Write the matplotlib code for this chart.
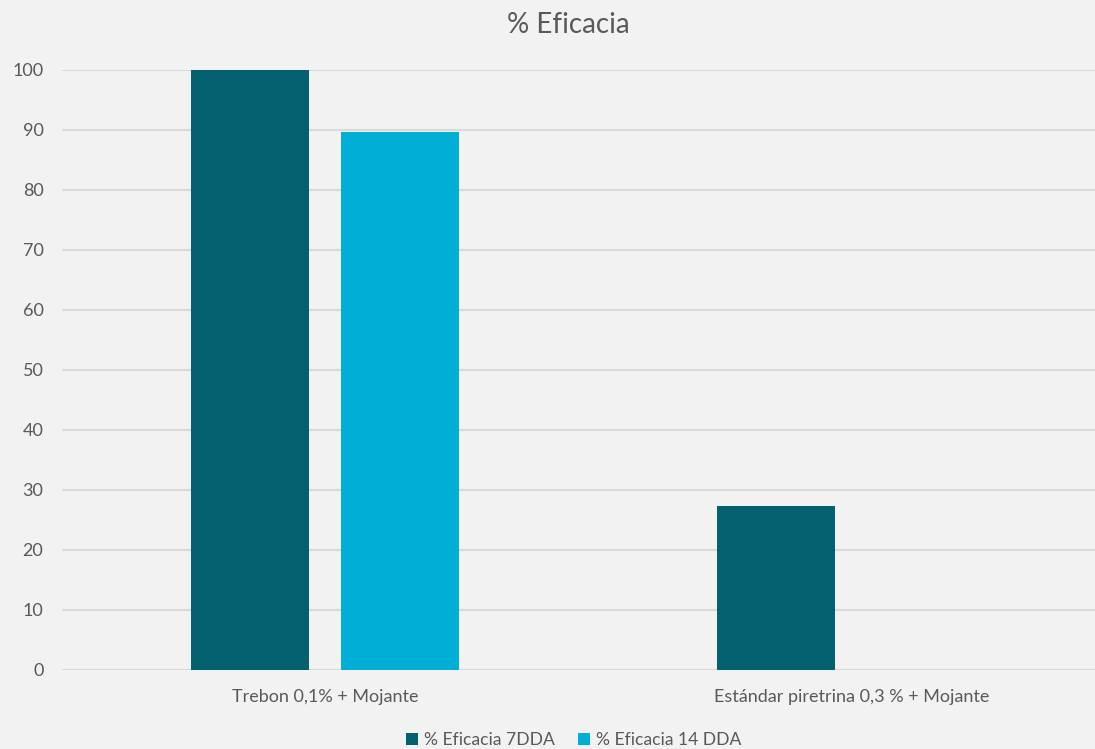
import matplotlib
matplotlib.use("Agg")
import matplotlib.pyplot as plt
import numpy as np

categories = ["Trebon 0,1% + Mojante", "Estándar piretrina 0,3 % + Mojante"]
series_names = ["% Eficacia 7DDA", "% Eficacia 14 DDA"]
eficacia_7dda = [100, 27.4]
eficacia_14dda = [89.7, 0]
yticks = list(range(0, 101, 10))

colors = ["#02606F", "#00AED6"]
txt = "#595959"
bg = "#F2F2F2"

plt.rcParams['font.family'] = ['Lato', 'DejaVu Sans']

W, H = 1095, 749
fig = plt.figure(figsize=(W / 100, H / 100), dpi=100, facecolor=bg)
left_px, top_px, bottom_px = 61.5, 70, 670
ax = fig.add_axes([left_px / W, (H - bottom_px) / H, 1 - left_px / W, (bottom_px - top_px) / H])
ax.set_facecolor(bg)

cat_px = 526.5
x = np.arange(len(categories))
bw = 118 / cat_px
gap = 32 / cat_px
off = (bw + gap) / 2
ax.bar(x - off, eficacia_7dda, width=bw, color=colors[0], label=series_names[0], zorder=3)
ax.bar(x + off, eficacia_14dda, width=bw, color=colors[1], label=series_names[1], zorder=3)

ax.set_xlim(-0.5, (W - left_px) / cat_px - 0.5)
ax.set_ylim(0, 100)
ax.set_yticks(yticks)
ax.set_xticks(x)
ax.set_xticklabels(categories)
ax.tick_params(axis='both', length=0, colors=txt, labelsize=13)
ax.tick_params(axis='x', pad=14)
ax.tick_params(axis='y', pad=13)
for s in ax.spines.values():
    s.set_visible(False)
ax.grid(axis='y', color="#D9D9D9", linewidth=1.5, zorder=0)
ax.set_axisbelow(True)

fig.text(568 / W, 1 - 25 / H, "% Eficacia", ha='center', va='center', fontsize=20, color=txt)

leg = fig.legend(loc='center', bbox_to_anchor=(574 / W, 1 - 740 / H), ncol=2, frameon=False,
                 fontsize=12.6, labelcolor=txt, handlelength=0.65, handleheight=0.65,
                 handletextpad=0.4, columnspacing=1.3)

fig.savefig("out.png", dpi=100, facecolor=bg)
